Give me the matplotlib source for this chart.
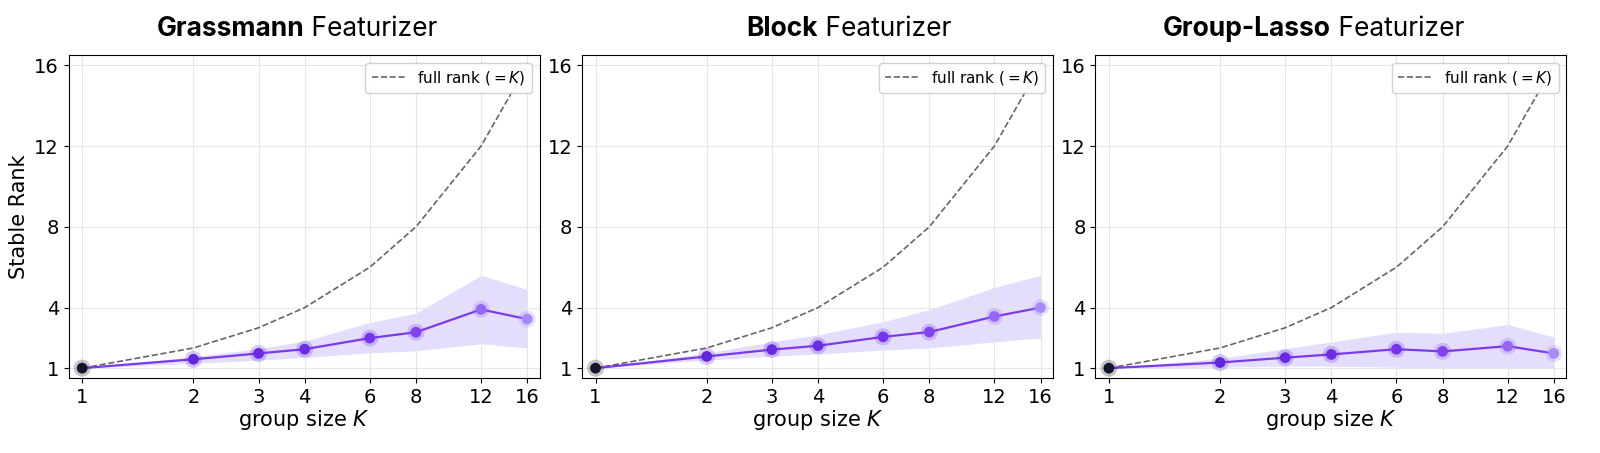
import matplotlib
matplotlib.use("Agg")
import matplotlib.pyplot as plt
from matplotlib.colors import LinearSegmentedColormap

K = [1, 2, 3, 4, 6, 8, 12, 16]
titles_bold = ["Grassmann", "Block", "Group-Lasso"]
mean = [
    [1, 1.44, 1.73, 1.94, 2.49, 2.78, 3.91, 3.43],
    [1, 1.58, 1.92, 2.11, 2.55, 2.79, 3.56, 4.0],
    [1, 1.28, 1.52, 1.68, 1.94, 1.83, 2.09, 1.73],
]
upper = [
    [1, 1.57, 1.97, 2.34, 3.26, 3.72, 5.6, 4.9],
    [1, 1.75, 2.3, 2.65, 3.3, 3.9, 5.0, 5.6],
    [1, 1.49, 1.97, 2.3, 2.78, 2.73, 3.16, 2.54],
]
lower = [
    [1, 1.24, 1.4, 1.53, 1.76, 1.86, 2.21, 2.0],
    [1, 1.4, 1.6, 1.7, 1.9, 2.0, 2.3, 2.5],
    [1, 1.05, 1.1, 1.1, 1.05, 0.98, 1.0, 1.0],
]

cmap = LinearSegmentedColormap.from_list("p", ["#14142b", "#5b21d6", "#7c3aed", "#a78bfa"])
mcols = [cmap(v) for v in [0, 0.4, 0.45, 0.5, 0.6, 0.7, 0.85, 1.0]]

fig, axes = plt.subplots(1, 3, figsize=(16, 4.53), dpi=100)
fig.subplots_adjust(left=0.043, right=0.979, bottom=0.165, top=0.878, wspace=0.09)
for i, ax in enumerate(axes):
    ax.set_xscale("log")
    ax.plot(K, K, ls="--", color="#666666", lw=1.2, label=r"full rank ($=K$)", zorder=2)
    ax.fill_between(K, lower[i], upper[i], color="#c4b5fd", alpha=0.45, lw=0, zorder=1)
    ax.plot(K, mean[i], color="#7c3aed", lw=1.6, zorder=3)
    ax.scatter(K, mean[i], s=150, c=mcols, alpha=0.25, lw=0, zorder=4)
    ax.scatter(K, mean[i], s=60, c=mcols, lw=0, zorder=5)
    ax.set_xticks(K)
    ax.set_xticklabels([str(k) for k in K])
    ax.minorticks_off()
    ax.set_xlim(0.92, 17.3)
    ax.set_ylim(0.5, 16.5)
    ax.set_yticks([1, 4, 8, 12, 16])
    ax.tick_params(labelsize=14)
    ax.grid(True, color="#e6e6e6", lw=0.8)
    ax.set_xlabel(r"group size $K$", fontsize=15, labelpad=1)
    ax.legend(loc="upper right", fontsize=11, framealpha=0.9, handlelength=2.2)
    ax.text(0.5, 1.06, titles_bold[i], transform=ax.transAxes, ha="right",
            fontsize=19, fontweight="bold", family="Inter")
    ax.text(0.5, 1.06, " Featurizer", transform=ax.transAxes, ha="left",
            fontsize=19, family="Inter")
axes[0].set_ylabel("Stable Rank", fontsize=15)
fig.savefig("out.png")
